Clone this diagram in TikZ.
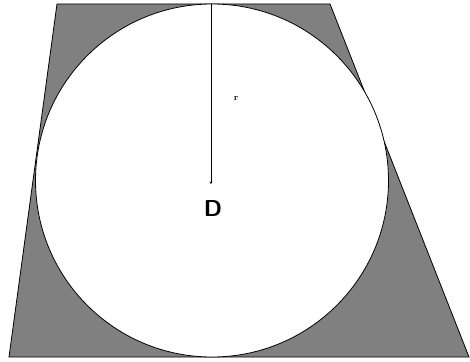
\documentclass[tikz,border=0pt]{standalone}
\usetikzlibrary{arrows.meta}
\definecolor{shade}{RGB}{128,128,128}
\begin{document}
\begin{tikzpicture}[x=1pt,y=-1pt,
  edge/.style={draw=black,line width=0.8pt},
  lbl/.style={inner sep=0pt}]
\useasboundingbox (0,0) rectangle (470,361);
\fill[white] (0,0) rectangle (470,361);
\coordinate (A) at (57,4);
\coordinate (B) at (330,4);
\coordinate (C) at (469,357);
\coordinate (E) at (9,357);
\filldraw[fill=shade,edge] (A) -- (B) -- (C) -- (E) -- cycle;
\coordinate (O) at (212,180.5);
\filldraw[fill=white,edge] (O) circle (176.5);
\coordinate (T) at (211,4);
\coordinate (P) at (211,184);
\draw[line width=0.6pt,-{Stealth[length=2.5pt,width=2.5pt]}] (T) -- (P);
\node[lbl,font=\sffamily\bfseries\fontsize{23}{23}\selectfont] (D) at (213,209) {D};
\node[lbl,font=\rmfamily\bfseries\fontsize{9}{9}\selectfont] (r) at (236,98) {r};
\end{tikzpicture}
\end{document}
